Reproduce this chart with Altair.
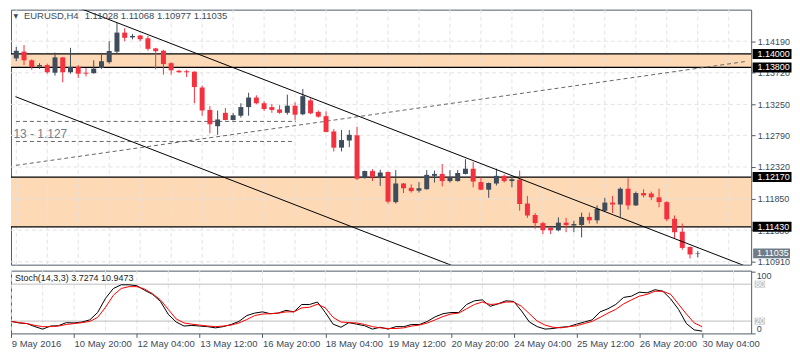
import json
import altair as alt
import pandas as pd

# ---------------- data ----------------
opens = [
    1.13934, 1.14034, 1.13906, 1.13814, 1.13835, 1.13721, 1.13949, 1.13728, 1.13807, 1.13721,
    1.13714, 1.13792, 1.13878, 1.14034, 1.14318, 1.14247, 1.14275, 1.14233, 1.14083, 1.14048,
    1.13863, 1.13750, 1.13743, 1.13736, 1.13501, 1.13168, 1.12926, 1.13125, 1.13018, 1.13082,
    1.13210, 1.13352, 1.13267, 1.13210, 1.13175, 1.13125, 1.13231, 1.13104, 1.13310, 1.13139,
    1.13075, 1.12848, 1.12607, 1.12713, 1.12791, 1.12159, 1.12259, 1.12159, 1.12245, 1.11797,
    1.12074, 1.12010, 1.11968, 1.11989, 1.12188, 1.12216, 1.12110, 1.12110, 1.12216, 1.12294,
    1.12095, 1.11982, 1.12074, 1.12188, 1.12110, 1.12131, 1.11776, 1.11606, 1.11485, 1.11414,
    1.11378, 1.11492, 1.11449, 1.11456, 1.11577, 1.11527, 1.11669, 1.11790, 1.11762, 1.11996,
    1.11748, 1.11932, 1.11925, 1.11868, 1.11797, 1.11549, 1.11357, 1.11130, 1.11028,
]
highs = [
    1.14105, 1.14133, 1.13920, 1.13863, 1.13856, 1.14020, 1.13956, 1.14091, 1.13835, 1.13792,
    1.13906, 1.13991, 1.14190, 1.14460, 1.14382, 1.14296, 1.14282, 1.14268, 1.14091, 1.14062,
    1.13878, 1.13764, 1.13764, 1.13743, 1.13530, 1.13224, 1.13158, 1.13196, 1.13125, 1.13267,
    1.13423, 1.13385, 1.13295, 1.13253, 1.13239, 1.13395, 1.13281, 1.13480, 1.13338, 1.13160,
    1.13146, 1.12884, 1.12869, 1.12869, 1.12919, 1.12266, 1.12287, 1.12280, 1.12252, 1.12273,
    1.12081, 1.12060, 1.12095, 1.12273, 1.12266, 1.12365, 1.12273, 1.12273, 1.12436, 1.12394,
    1.12166, 1.12088, 1.12294, 1.12209, 1.12174, 1.12266, 1.11890, 1.11634, 1.11506, 1.11421,
    1.11570, 1.11563, 1.11520, 1.11641, 1.11641, 1.11748, 1.11861, 1.11890, 1.12017, 1.12152,
    1.11953, 1.11989, 1.11953, 1.11996, 1.11811, 1.11598, 1.11478, 1.11137, 1.11068,
]
lows = [
    1.13892, 1.13835, 1.13764, 1.13778, 1.13707, 1.13679, 1.13579, 1.13707, 1.13643, 1.13665,
    1.13707, 1.13778, 1.13856, 1.14005, 1.14190, 1.14218, 1.14190, 1.14048, 1.13771, 1.13693,
    1.13693, 1.13721, 1.13657, 1.13267, 1.13082, 1.12820, 1.12798, 1.13011, 1.13011, 1.13054,
    1.13082, 1.13253, 1.13153, 1.13125, 1.13111, 1.13097, 1.13011, 1.13089, 1.13104, 1.13054,
    1.12834, 1.12550, 1.12550, 1.12614, 1.12124, 1.12145, 1.12110, 1.12039, 1.11776, 1.11776,
    1.11932, 1.11939, 1.11939, 1.11982, 1.12088, 1.12032, 1.12088, 1.12103, 1.12209, 1.12017,
    1.11975, 1.11861, 1.12046, 1.12088, 1.12017, 1.11669, 1.11563, 1.11400, 1.11322, 1.11322,
    1.11364, 1.11350, 1.11350, 1.11272, 1.11478, 1.11478, 1.11648, 1.11634, 1.11577, 1.11684,
    1.11740, 1.11868, 1.11826, 1.11719, 1.11513, 1.11258, 1.11087, 1.10959, 1.10977,
]
closes = [
    1.14048, 1.13906, 1.13807, 1.13835, 1.13728, 1.13949, 1.13728, 1.13807, 1.13707, 1.13707,
    1.13782, 1.13892, 1.14044, 1.14318, 1.14240, 1.14268, 1.14218, 1.14076, 1.14041, 1.13849,
    1.13757, 1.13728, 1.13728, 1.13508, 1.13160, 1.12955, 1.13026, 1.13018, 1.13089, 1.13210,
    1.13352, 1.13267, 1.13182, 1.13168, 1.13125, 1.13231, 1.13097, 1.13373, 1.13118, 1.13068,
    1.12841, 1.12607, 1.12720, 1.12798, 1.12145, 1.12259, 1.12174, 1.12237, 1.11804, 1.12074,
    1.12003, 1.11961, 1.12003, 1.12202, 1.12216, 1.12110, 1.12166, 1.12230, 1.12294, 1.12103,
    1.11982, 1.12081, 1.12188, 1.12110, 1.12138, 1.11769, 1.11598, 1.11485, 1.11378, 1.11378,
    1.11492, 1.11456, 1.11471, 1.11577, 1.11527, 1.11698, 1.11790, 1.11762, 1.11996, 1.11748,
    1.11932, 1.11897, 1.11868, 1.11797, 1.11542, 1.11350, 1.11116, 1.11019, 1.11035,
]
stoch_k = [
    19.5, 17, 16, 11, 7, 12, 12.5, 17.5, 17, 18.5,
    22, 34, 57, 73, 79, 79, 77.5, 70, 63.5, 52,
    31, 18.5, 12, 13, 12, 11, 9, 11, 14.5, 19.5,
    29, 33, 35, 32, 33, 37.5, 35, 47, 47, 51,
    34, 15, 10, 17.5, 15, 12.5, 7, 10, 7, 11,
    11, 14.5, 14.5, 19.5, 27, 32, 34, 34, 47, 53,
    54.5, 44, 48, 53, 52, 36.5, 18.5, 11, 7, 8,
    10, 11, 15, 18.5, 22, 35, 40, 47, 58.5, 60.5,
    67, 66, 71, 68.5, 56, 39, 16, 5.7, 3.7274,
]
stoch_d = [
    19.5, 17.5, 16, 13, 11, 11, 12, 14.5, 16, 17.5,
    19.5, 26, 42.5, 62, 73, 76, 76, 72, 64.5, 54.5,
    39, 23.5, 17, 15, 13.5, 12, 11, 12, 13.5, 17,
    22.5, 29, 31.5, 32, 33, 35, 35, 41.5, 42.5, 47.5,
    41.5, 26, 18.5, 17.5, 17, 14.5, 11, 9, 8, 8,
    9, 12, 13.5, 17, 22, 27.5, 31.5, 33, 40, 47,
    51, 47, 48, 51, 51, 44, 32, 20, 13.5, 10,
    9, 11, 12.5, 16, 19.5, 26, 33, 39, 48, 54.5,
    60.5, 63.5, 68.5, 68.5, 63.5, 47.5, 31.5, 17, 10.9473,
]
x_labels = ["9 May 2016", "10 May 20:00", "12 May 04:00", "13 May 12:00",
            "16 May 20:00", "18 May 04:00", "19 May 12:00", "20 May 20:00",
            "24 May 04:00", "25 May 12:00", "26 May 20:00", "30 May 04:00"]
price_ticks = [1.1419, 1.1372, 1.1325, 1.1279, 1.1232, 1.1185, 1.1138, 1.1091]
levels = [1.14000, 1.13800, 1.12170, 1.11430]
level_labels = ["1.14000", "1.13800", "1.12170", "1.11430"]
band_lo = [1.13800, 1.11430]
band_hi = [1.14000, 1.12170]
last_price = 1.11035
trend_i = [8.0, 94.25, -0.1, 56.5]
trend_p = [1.14689, 1.10842, 1.13365, 1.10844]
trend_k = ["a", "a", "b", "b"]
rise_i = [-0.04, 94.25]
rise_p = [1.12344, 1.13889]
hdash_p = [1.12997, 1.12699]
hdash_end = [36.1, 35.6]

# ---------------- style ----------------
W, H1, H2 = 743, 256, 63
F = "Liberation Sans"
BULL, BEAR = "#3f4c5c", "#f4323f"
FRAME = "#4f5d6b"
TXT = "#3b4a5a"
GRID = "#e3e3e3"

n = len(opens)
candles = pd.DataFrame({"i": list(range(n)), "open": opens, "high": highs,
                        "low": lows, "close": closes})
candles["dir"] = ["up" if c >= o else "down" for o, c in zip(opens, closes)]

xs = alt.Scale(domain=[-0.04, 94.25], nice=False, zero=False)
ys = alt.Scale(domain=[1.10867, 1.14659], nice=False, zero=False)
ss = alt.Scale(domain=[0, 102], nice=False, zero=False)

price_axis = alt.Axis(orient="right", values=price_ticks, format=".5f", title=None,
                      grid=False, domain=False, tickSize=4, tickColor=FRAME,
                      labelColor=TXT, labelFont=F, labelFontSize=9, labelPadding=2)
stoch_axis = alt.Axis(orient="right", values=[0, 100], title=None, grid=False,
                      domain=False, tickSize=4, tickColor=FRAME, labelColor=TXT,
                      labelFont=F, labelFontSize=9, labelPadding=1, labelFlush=3)
label_expr = json.dumps(x_labels) + "[round(datum.value / 8)]"
time_axis = alt.Axis(orient="bottom", values=list(range(0, 89, 8)), labelExpr=label_expr,
                     labelAlign="left", labelBaseline="top", labelPadding=1, tickSize=4,
                     tickColor=FRAME, domain=False, grid=False, title=None,
                     labelFont=F, labelFontSize=9.5, labelColor=TXT,
                     labelOverlap=False, labelBound=False)


def PX(f):
    return alt.X(f, scale=xs, axis=None)


def PY(f):
    return alt.Y(f, scale=ys, axis=price_axis)


def SX(f):
    return alt.X(f, scale=xs, axis=time_axis)


def SY(f):
    return alt.Y(f, scale=ss, axis=stoch_axis)


col = alt.Color("dir:N", scale=alt.Scale(domain=["up", "down"], range=[BULL, BEAR]), legend=None)
one = pd.DataFrame({"a": [0]})

# ---------------- main panel ----------------
bands = alt.Chart(pd.DataFrame({"lo": band_lo, "hi": band_hi})).mark_rect(
    color="#fdd9b5").encode(x=alt.value(0), x2=alt.value(W), y=PY("lo:Q"), y2="hi")
hgrid = alt.Chart(pd.DataFrame({"p": price_ticks})).mark_rule(
    color=GRID, strokeDash=[4, 3]).encode(y=PY("p:Q"), x=alt.value(0), x2=alt.value(W))
vgrid = alt.Chart(pd.DataFrame({"g": list(range(0, 93, 4))})).mark_rule(
    color=GRID, strokeDash=[4, 3]).encode(x=PX("g:Q"), y=alt.value(0), y2=alt.value(H1))
lvl = alt.Chart(pd.DataFrame({"p": levels})).mark_rule(
    color="black", strokeWidth=1.3).encode(y=PY("p:Q"), x=alt.value(0), x2=alt.value(W))
hdash = alt.Chart(pd.DataFrame({"x0": [-0.04, -0.04], "x1": hdash_end, "p": hdash_p})).mark_rule(
    color="#666666", strokeDash=[4, 3]).encode(x=PX("x0:Q"), x2="x1", y=PY("p:Q"))
rising = alt.Chart(pd.DataFrame({"i": rise_i, "p": rise_p})).mark_line(
    color="#666666", strokeDash=[4, 3], strokeWidth=1, clip=True).encode(x=PX("i:Q"), y=PY("p:Q"))
trend = alt.Chart(pd.DataFrame({"i": trend_i, "p": trend_p, "k": trend_k})).mark_line(
    color="black", strokeWidth=1, clip=True).encode(x=PX("i:Q"), y=PY("p:Q"), detail="k:N")
wicks = alt.Chart(candles).mark_rule(strokeWidth=1).encode(
    x=PX("i:Q"), y=PY("low:Q"), y2="high", color=col)
bodies = alt.Chart(candles).mark_bar(size=5).encode(
    x=PX("i:Q"), y=PY("open:Q"), y2="close", color=col)

tri = alt.Chart(one).mark_text(text="▼", font="DejaVu Sans", fontSize=6, color=TXT,
                               align="left", baseline="middle").encode(
    x=alt.value(2.5), y=alt.value(6))
title1 = alt.Chart(one).mark_text(text="EURUSD,H4", font=F, fontSize=9.5, color=TXT,
                                  align="left", baseline="middle").encode(
    x=alt.value(13), y=alt.value(6))
title2 = alt.Chart(one).mark_text(text="1.11028 1.11068 1.10977 1.11035", font=F, fontSize=9.5,
                                  color=TXT, align="left", baseline="middle").encode(
    x=alt.value(74), y=alt.value(6))
note = alt.Chart(one).mark_text(text="13 - 1.127", font=F, fontSize=12, color="#6f7e8c",
                                align="left", baseline="middle").encode(
    x=alt.value(2.5), y=alt.value(125))

box_df = pd.DataFrame({"p": levels, "lab": level_labels})
boxes = alt.Chart(box_df).mark_rect(color="black", yOffset=-5, y2Offset=5).encode(
    x=alt.value(W + 1.5), x2=alt.value(W + 40.5), y=PY("p:Q"), y2="p")
box_txt = alt.Chart(box_df).mark_text(color="white", font=F, fontSize=9, align="left",
                                      baseline="middle").encode(
    x=alt.value(W + 6.3), y=PY("p:Q"), text="lab:N")
last_df = pd.DataFrame({"p": [last_price], "lab": [f"{last_price:.5f}"]})
last_box = alt.Chart(last_df).mark_rect(color="#6e7c88", yOffset=-5, y2Offset=5).encode(
    x=alt.value(W + 2), x2=alt.value(W + 39), y=PY("p:Q"), y2="p")
last_txt = alt.Chart(last_df).mark_text(color="white", font=F, fontSize=9, align="left",
                                        baseline="middle").encode(
    x=alt.value(W + 5.8), y=PY("p:Q"), text="lab:N")

main = alt.layer(bands, hgrid, vgrid, lvl, hdash, rising, wicks, bodies, trend,
                 tri, title1, title2, note, boxes, box_txt, last_box, last_txt).properties(
    width=W, height=H1)

# ---------------- stochastic panel ----------------
sdf = pd.DataFrame({"i": list(range(n)), "k": stoch_k, "d": stoch_d})
s_vgrid = alt.Chart(pd.DataFrame({"g": list(range(0, 93, 4))})).mark_rule(
    color=GRID, strokeDash=[4, 3]).encode(x=SX("g:Q"), y=alt.value(0), y2=alt.value(H2))
s_lv = alt.Chart(pd.DataFrame({"v": [80, 20]})).mark_rule(color="#bdbdbd").encode(
    y=SY("v:Q"), x=alt.value(0), x2=alt.value(W))
k_line = alt.Chart(sdf).mark_line(color="black", strokeWidth=1).encode(x=SX("i:Q"), y=SY("k:Q"))
d_line = alt.Chart(sdf).mark_line(color="#ff0000", strokeWidth=1).encode(x=SX("i:Q"), y=SY("d:Q"))
s_title = alt.Chart(one).mark_text(text="Stoch(14,3,3) 3.7274 10.9473", font=F, fontSize=9,
                                   color="#222222", align="left", baseline="middle").encode(
    x=alt.value(4), y=alt.value(7.5))
lv_df = pd.DataFrame({"v": [80, 20], "lab": ["80", "20"]})
lv_box = alt.Chart(lv_df).mark_rect(color="#c4c4c4", yOffset=-3.5, y2Offset=3.5).encode(
    x=alt.value(W + 3.5), x2=alt.value(W + 14), y=SY("v:Q"), y2="v")
lv_txt = alt.Chart(lv_df).mark_text(color="white", font=F, fontSize=8.5, align="center",
                                    baseline="middle").encode(
    x=alt.value(W + 8.8), y=SY("v:Q"), text="lab:N")

stoch = alt.layer(s_vgrid, s_lv, k_line, d_line, s_title, lv_box, lv_txt).properties(
    width=W, height=H2)

chart = alt.vconcat(main, stoch, spacing=2).properties(
    padding={"left": 0, "top": 0, "right": 0, "bottom": 0},
    background="white",
).configure_view(stroke=FRAME, strokeWidth=1)

chart.save("out.html", embed_options={"renderer": "svg", "actions": False})
